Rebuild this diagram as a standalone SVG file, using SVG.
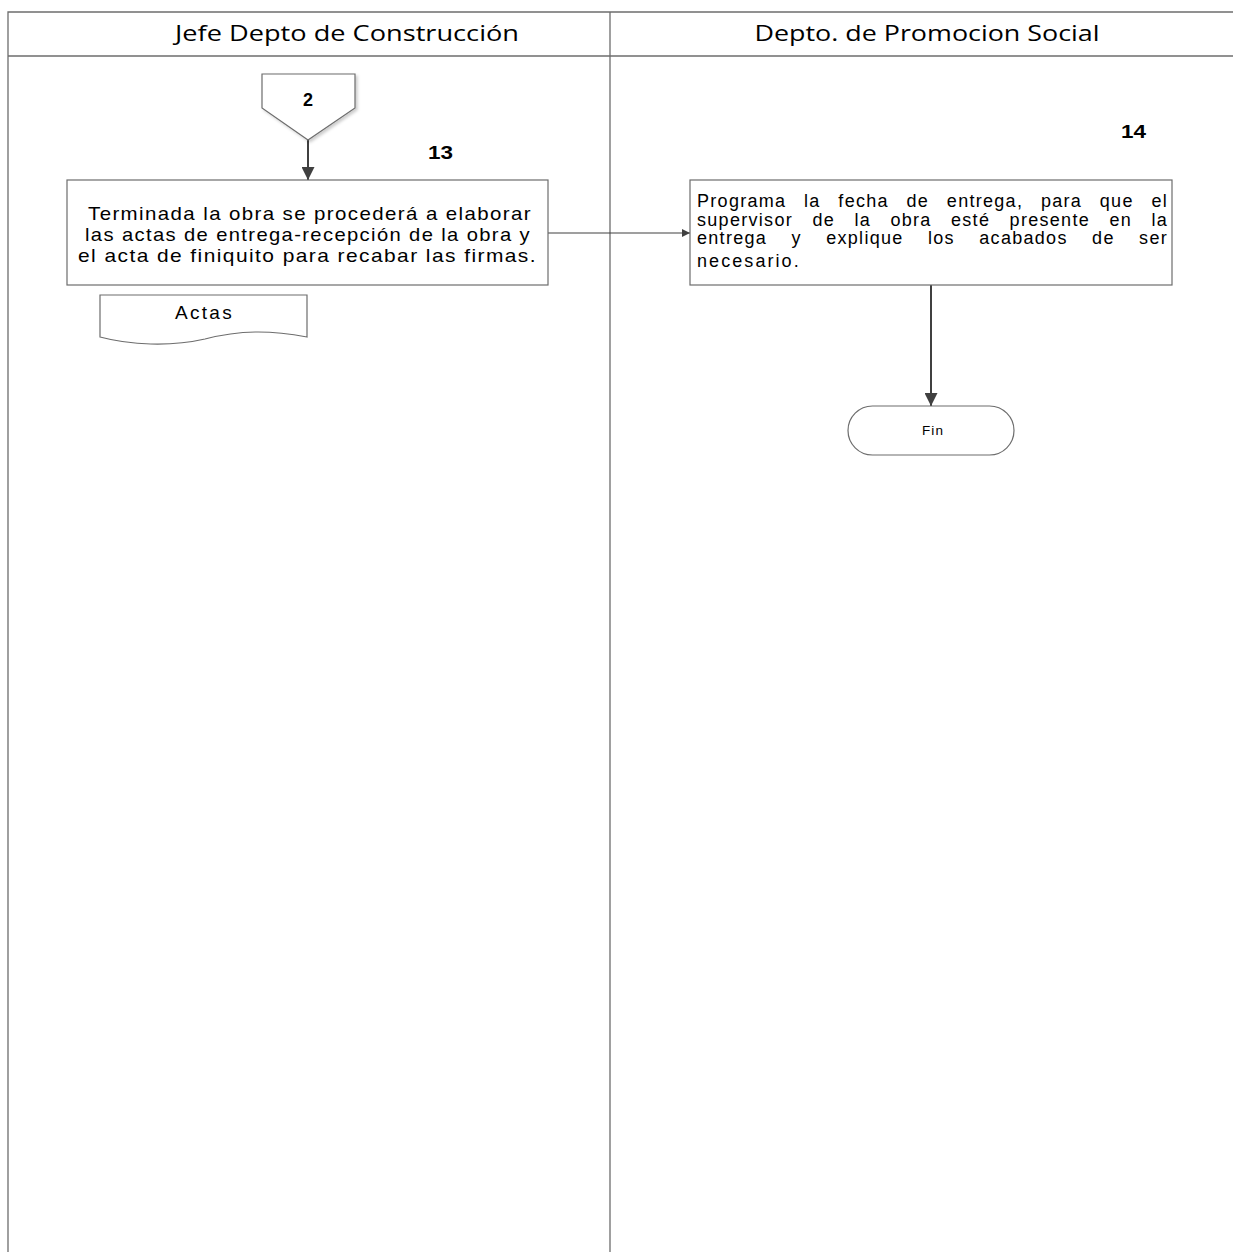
<svg xmlns="http://www.w3.org/2000/svg" width="1233" height="1252" viewBox="0 0 1233 1252">
<style>
.lane{stroke:#6d6d6d;stroke-width:1.3;fill:none}
.box{fill:#fff;stroke:#6d6d6d;stroke-width:1.2}
.hdr{font-family:"Open Sans","Liberation Sans",sans-serif;font-size:22px;fill:#000}
.t{font-family:"Liberation Sans",Arial,sans-serif;font-size:19px;fill:#000;letter-spacing:1.3px}
.t2{font-family:"Liberation Sans",Arial,sans-serif;font-size:18px;fill:#000;letter-spacing:1.3px}
.num{font-family:"Liberation Sans",Arial,sans-serif;font-size:18px;font-weight:bold;fill:#000}
.con{stroke:#404040;stroke-width:2;fill:none}
.thin{stroke:#404040;stroke-width:1.2;fill:none}
</style>
<defs>
<marker id="ah" viewBox="0 0 10 10" refX="10" refY="5" markerWidth="10" markerHeight="8" orient="auto" markerUnits="userSpaceOnUse">
<path d="M0,0 L10,5 L0,10 z" fill="#404040"/>
</marker>
<marker id="ahb" viewBox="0 0 10 10" refX="10" refY="5" markerWidth="13" markerHeight="13" orient="auto" markerUnits="userSpaceOnUse">
<path d="M0,0 L10,5 L0,10 z" fill="#404040"/>
</marker>
<filter id="sh" x="-10%" y="-10%" width="130%" height="130%"><feDropShadow dx="2" dy="2" stdDeviation="1.5" flood-color="#000" flood-opacity="0.2"/></filter>
</defs>
<rect width="1233" height="1252" fill="#fff"/>
<g id="lanes">
<path class="lane" d="M1233,12 H8 V1252 M8,56 H1233 M610,12 V1252"/>
<text class="hdr" x="347" y="41" text-anchor="middle" textLength="344" lengthAdjust="spacingAndGlyphs">Jefe Depto de Construcción</text>
<text class="hdr" x="927" y="41" text-anchor="middle" textLength="345" lengthAdjust="spacingAndGlyphs">Depto. de Promocion Social</text>
</g>
<g id="connectors">
<line class="con" x1="308" y1="140" x2="308" y2="180" marker-end="url(#ahb)"/>
<line class="thin" x1="548" y1="233" x2="690" y2="233" marker-end="url(#ah)"/>
<line class="con" x1="931" y1="285" x2="931" y2="406" marker-end="url(#ahb)"/>
</g>
<g id="conector-2">
<path class="box" filter="url(#sh)" d="M262,74 H355 V108 L308,140 L262,108 Z"/>
<text class="num" x="308" y="106" text-anchor="middle">2</text>
</g>
<g id="num-13"><text class="num" x="428" y="159" textLength="25" lengthAdjust="spacingAndGlyphs">13</text></g>
<g id="paso-13">
<rect class="box" x="67" y="180" width="481" height="105"/>
<text class="t" x="88" y="220" textLength="444" lengthAdjust="spacingAndGlyphs">Terminada la obra se procederá a elaborar</text>
<text class="t" x="85" y="241" textLength="446" lengthAdjust="spacingAndGlyphs">las actas de entrega-recepción de la obra y</text>
<text class="t" x="78" y="262" textLength="459" lengthAdjust="spacingAndGlyphs">el acta de finiquito para recabar las firmas.</text>
</g>
<g id="doc-actas">
<path class="box" d="M100,295 H307 V337 C270,330 240,330 205,339 C170,347 130,345 100,337 Z"/>
<text class="t" x="175" y="319" textLength="58" lengthAdjust="spacing">Actas</text>
</g>
<g id="num-14"><text class="num" x="1121" y="138" textLength="25" lengthAdjust="spacingAndGlyphs">14</text></g>
<g id="paso-14">
<rect class="box" x="690" y="180" width="482" height="105"/>
<text class="t2" x="697" y="207" word-spacing="11.4" textLength="471" lengthAdjust="spacing">Programa la fecha de entrega, para que el</text>
<text class="t2" x="697" y="225.5" word-spacing="13.1" textLength="471" lengthAdjust="spacing">supervisor de la obra esté presente en la</text>
<text class="t2" x="697" y="244" word-spacing="18.1" textLength="471" lengthAdjust="spacing">entrega y explique los acabados de ser</text>
<text class="t2" x="697" y="267" textLength="103" lengthAdjust="spacing">necesario.</text>
</g>
<g id="fin">
<rect class="box" x="848" y="406" width="166" height="49" rx="24.5" ry="24.5"/>
<text x="922" y="435" font-family="Liberation Sans,Arial,sans-serif" font-size="13.5" textLength="21" lengthAdjust="spacing">Fin</text>
</g>
</svg>
